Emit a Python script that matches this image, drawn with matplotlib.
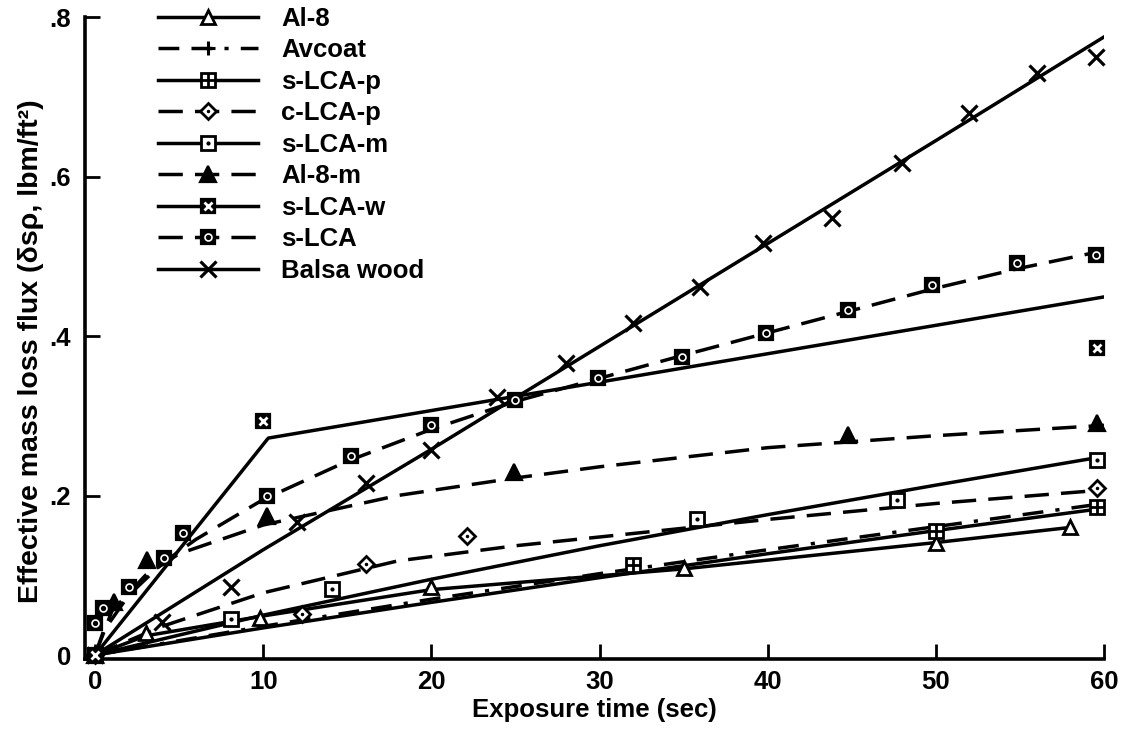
import matplotlib
matplotlib.use("Agg")
import matplotlib.pyplot as plt
from matplotlib.lines import Line2D

plt.rcParams['font.family'] = ['Liberation Sans', 'DejaVu Sans']
plt.rcParams['font.weight'] = 'bold'
plt.rcParams['font.size'] = 18

# ---- data (time in sec, flux in lbm/ft^2) ----
al8_t = [0, 3, 9.8, 20, 35, 50, 58]
al8_y = [0, 0.027, 0.047, 0.085, 0.109, 0.141, 0.161]
al8_fit_t = [0, 3, 10, 20, 35, 50, 58]
al8_fit_y = [0, 0.024, 0.049, 0.082, 0.108, 0.141, 0.16]

avcoat_t = [0]
avcoat_y = [0]
avcoat_fit_t = [0, 10, 20, 30, 40, 50, 60]
avcoat_fit_y = [0, 0.036, 0.07, 0.102, 0.132, 0.161, 0.19]

slcap_t = [0, 32, 50, 59.6]
slcap_y = [0, 0.113, 0.155, 0.186]
slcap_fit_t = [0, 10, 20, 30, 40, 50, 60]
slcap_fit_y = [0, 0.034, 0.066, 0.097, 0.127, 0.156, 0.184]

clcap_t = [0, 12.3, 16.1, 22.1, 59.6]
clcap_y = [0, 0.052, 0.114, 0.149, 0.21]
clcap_fit_t = [0, 4, 10, 18, 25, 30, 40, 50, 60]
clcap_fit_y = [0, 0.036, 0.078, 0.118, 0.137, 0.148, 0.17, 0.19, 0.207]

slcam_t = [0, 8.1, 14.1, 35.8, 47.7, 59.6]
slcam_y = [0, 0.045, 0.083, 0.171, 0.194, 0.244]
slcam_fit_t = [0, 10, 20, 30, 40, 50, 60]
slcam_fit_y = [0, 0.05, 0.095, 0.137, 0.176, 0.213, 0.249]

al8m_t = [0, 1.1, 3.1, 10.2, 24.9, 44.8, 59.6]
al8m_y = [0, 0.067, 0.119, 0.174, 0.229, 0.276, 0.291]
al8m_fit_t = [0, 1, 3, 5, 10, 18, 25, 30, 40, 50, 60]
al8m_fit_y = [0, 0.055, 0.1, 0.127, 0.163, 0.2, 0.222, 0.236, 0.26, 0.275, 0.288]

slcaw_t = [0, 10, 59.6]
slcaw_y = [0, 0.294, 0.385]
slcaw_fit_t = [0, 10.3, 60]
slcaw_fit_y = [0, 0.272, 0.449]

slca_t = [0, 0.5, 2, 4.1, 5.2, 10.2, 15.2, 20, 25, 29.9, 34.9, 39.9, 44.8, 49.8, 54.8, 59.5]
slca_y = [0.04, 0.059, 0.085, 0.122, 0.153, 0.2, 0.249, 0.289, 0.32, 0.347, 0.374,
          0.404, 0.433, 0.464, 0.491, 0.502]
slca_fit_t = [0, 0.5, 2, 4, 6, 10, 15, 20, 25, 30, 35, 40, 45, 50, 55, 60]
slca_fit_y = [0, 0.03, 0.075, 0.115, 0.145, 0.195, 0.243, 0.283, 0.318, 0.347, 0.376,
              0.404, 0.432, 0.46, 0.485, 0.507]

balsa_t = [0, 4, 8.1, 12, 16.1, 20, 23.9, 28, 32, 36, 39.7, 43.8, 48, 52, 56, 59.5]
balsa_y = [0, 0.041, 0.085, 0.167, 0.216, 0.257, 0.324, 0.366, 0.416, 0.462, 0.517,
           0.548, 0.617, 0.68, 0.73, 0.75]
balsa_fit_t = [0, 10, 20, 30, 40, 50, 60]
balsa_fit_y = [0, 0.132, 0.258, 0.387, 0.516, 0.645, 0.775]

LW = 2.5
DASH = (0, (7, 3.5))
DASHDOT = (0, (6, 3.5, 6, 3.5, 1.2, 3.5))
FS = 18.5

fig = plt.figure(figsize=(11.23, 7.31), dpi=100)
ax = fig.add_axes([85 / 1123, 1 - 659 / 731, (1104 - 85) / 1123, (659 - 17) / 731])

# marker styles: each series can stack several markers on top of each other
sq_open = dict(marker='s', ms=9.5, mfc='white', mec='black', mew=2)
sq_black = dict(marker='s', ms=10.5, mfc='black', mec='black', mew=1.6)
styles = [
    ('Al-8', al8_t, al8_y, al8_fit_t, al8_fit_y, '-',
     [dict(marker='^', ms=10, mfc='white', mec='black', mew=2)]),
    ('Avcoat', avcoat_t, avcoat_y, avcoat_fit_t, avcoat_fit_y, DASHDOT,
     [dict(marker='+', ms=10, mec='black', mew=2.2)]),
    ('s-LCA-p', slcap_t, slcap_y, slcap_fit_t, slcap_fit_y, '-',
     [sq_open, dict(marker='+', ms=9.5, mec='black', mew=2)]),
    ('c-LCA-p', clcap_t, clcap_y, clcap_fit_t, clcap_fit_y, DASH,
     [dict(marker='D', ms=8.5, mfc='white', mec='black', mew=2),
      dict(marker='.', ms=3, mfc='black', mec='black')]),
    ('s-LCA-m', slcam_t, slcam_y, slcam_fit_t, slcam_fit_y, '-',
     [sq_open, dict(marker='.', ms=4, mfc='black', mec='black')]),
    ('Al-8-m', al8m_t, al8m_y, al8m_fit_t, al8m_fit_y, DASH,
     [dict(marker='^', ms=11, mfc='black', mec='black', mew=1.6)]),
    ('s-LCA-w', slcaw_t, slcaw_y, slcaw_fit_t, slcaw_fit_y, '-',
     [sq_black, dict(marker='x', ms=6, mec='white', mew=2)]),
    ('s-LCA', slca_t, slca_y, slca_fit_t, slca_fit_y, DASH,
     [sq_black, dict(marker='o', ms=5, mfc='none', mec='white', mew=1.2)]),
    ('Balsa wood', balsa_t, balsa_y, balsa_fit_t, balsa_fit_y, '-',
     [dict(marker='x', ms=12, mec='black', mew=2.3)]),
]

handles = []
labels = []
for name, t, y, ft, fy, ls, mks in styles:
    ax.plot(ft, fy, color='black', lw=LW, ls=ls, zorder=2)
    for i, mk in enumerate(mks):
        ax.plot(t, y, ls='none', zorder=3 + i, clip_on=False, **mk)
    h = [Line2D([], [], color='black', lw=LW, ls=ls)]
    for mk in mks:
        h.append(Line2D([], [], ls='none', **mk))
    handles.append(tuple(h))
    labels.append(name)

ax.set_xlim(-0.6, 60)
ax.set_ylim(-0.005, 0.8)
ax.set_xticks([0, 10, 20, 30, 40, 50, 60])
ax.set_yticks([0, 0.2, 0.4, 0.6, 0.8])
ax.set_yticklabels(['0', '.2', '.4', '.6', '.8'])
for lab in ax.get_xticklabels() + ax.get_yticklabels():
    lab.set_fontweight('bold')
    lab.set_fontsize(FS)

for s in ['top', 'right']:
    ax.spines[s].set_visible(False)
for s in ['left', 'bottom']:
    ax.spines[s].set_linewidth(2.6)
ax.tick_params(direction='in', length=11, width=2)
ax.tick_params(axis='x', pad=8)
ax.tick_params(axis='y', pad=10)

ax.set_xlabel('Exposure time (sec)', fontsize=FS, fontweight='bold', labelpad=3)
ax.set_ylabel('Effective mass loss flux (δsρ, lbm/ft²)', fontsize=20.5,
              fontweight='bold')
ax.yaxis.set_label_coords(-41 / 1019, 0.48)

fig.legend(handles, labels, loc='upper left',
           bbox_to_anchor=(158 / 1123, 1 - 7 / 731), frameon=False,
           numpoints=1, handlelength=3.9, handletextpad=0.9,
           labelspacing=0.29, borderpad=0, borderaxespad=0,
           prop={'weight': 'bold', 'size': FS})

fig.savefig('out.png', dpi=100)
